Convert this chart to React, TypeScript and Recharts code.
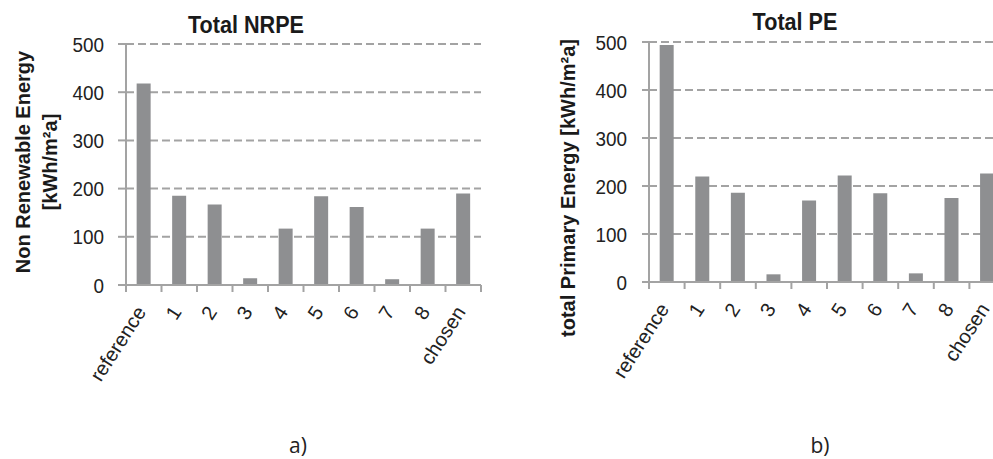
import { BarChart, Bar, XAxis, YAxis, CartesianGrid } from 'recharts'

const categories = ['reference', '1', '2', '3', '4', '5', '6', '7', '8', 'chosen']
const nrpeValues = [418, 185, 167, 14, 117, 184, 162, 12, 117, 190]
const peValues = [494, 220, 186, 16, 170, 222, 185, 18, 175, 226]
const yTicks = [0, 100, 200, 300, 400, 500]

const nrpeData = categories.map((name, i) => ({ name, value: nrpeValues[i] }))
const peData = categories.map((name, i) => ({ name, value: peValues[i] }))

const FONT = '"Liberation Sans", Arial, sans-serif'
const GRAY = '#a3a3a3'
const BAR = '#8e8f91'

// category label, rotated, plus the tick marks on the category edges
function RotTick({ x, y, payload, index, visibleTicksCount, half }: any) {
  const h = payload?.offset || half
  const ax = x + 3
  const ay = y + 27
  const last = index === visibleTicksCount - 1
  return (
    <g>
      <line x1={x - h} y1={y} x2={x - h} y2={y + 7} stroke={GRAY} strokeWidth={2} />
      {last && <line x1={x + h} y1={y} x2={x + h} y2={y + 7} stroke={GRAY} strokeWidth={2} />}
      <text
        x={ax}
        y={ay}
        transform={`rotate(-57 ${ax} ${ay})`}
        textAnchor="end"
        fontFamily={FONT}
        fontSize={20}
        fill="#222"
      >
        {payload.value}
      </text>
    </g>
  )
}

function ValueTick({ x, y, payload }: any) {
  return (
    <text
      transform={`translate(${x} ${y}) scale(0.9 1)`}
      textAnchor="end"
      dy="0.36em"
      fontFamily={FONT}
      fontSize={21}
      fill="#222"
    >
      {payload.value}
    </text>
  )
}

function Panel({
  data,
  width,
  height,
  axisWidth,
  tickSize,
  tickMargin,
  right,
  top,
}: {
  data: { name: string; value: number }[]
  width: number
  height: number
  axisWidth: number
  tickSize: number
  tickMargin: number
  right: number
  top: number
}) {
  const half = (width - axisWidth - right) / data.length / 2
  return (
    <BarChart
      width={width}
      height={height}
      data={data}
      margin={{ top, right, left: 0, bottom: 0 }}
      barCategoryGap="30%"
    >
      <CartesianGrid vertical={false} stroke={GRAY} strokeWidth={2} strokeDasharray="8 4" />
      <XAxis
        dataKey="name"
        height={115}
        interval={0}
        axisLine={{ stroke: GRAY, strokeWidth: 2 }}
        tickLine={false}
        tickSize={0}
        tickMargin={0}
        tick={<RotTick half={half} />}
      />
      <YAxis
        domain={[0, 500]}
        ticks={yTicks}
        width={axisWidth}
        tickSize={tickSize}
        tickMargin={tickMargin}
        axisLine={{ stroke: GRAY, strokeWidth: 2 }}
        tickLine={{ stroke: GRAY, strokeWidth: 2 }}
        tick={<ValueTick />}
      />
      <Bar dataKey="value" fill={BAR} isAnimationActive={false} />
    </BarChart>
  )
}

const titleStyle: React.CSSProperties = {
  position: 'absolute',
  fontFamily: FONT,
  fontWeight: 'bold',
  fontSize: 24,
  color: '#1a1a1a',
  transform: 'translate(-50%, -50%) scaleX(0.9)',
  whiteSpace: 'nowrap',
  lineHeight: 1,
}

const axisTitleStyle: React.CSSProperties = {
  position: 'absolute',
  fontFamily: FONT,
  fontWeight: 'bold',
  fontSize: 20,
  color: '#1a1a1a',
  transform: 'translate(-50%, -50%) rotate(-90deg)',
  whiteSpace: 'nowrap',
  lineHeight: 1,
  textAlign: 'center',
}

const captionStyle: React.CSSProperties = {
  position: 'absolute',
  fontFamily: '"Open Sans", "Noto Sans", sans-serif',
  fontSize: 21,
  color: '#222',
  transform: 'translate(-50%, -50%)',
  lineHeight: 1,
}

export default function App() {
  return (
    <div
      style={{
        position: 'absolute',
        left: 0,
        top: 0,
        width: 993,
        height: 459,
        overflow: 'hidden',
        background: '#fff',
      }}
    >
      <div style={{ position: 'absolute', left: 0, top: 0 }}>
        <Panel
          data={nrpeData}
          width={493}
          height={400}
          axisWidth={126}
          tickSize={8}
          tickMargin={14}
          right={12}
          top={44}
        />
      </div>
      <div style={{ position: 'absolute', left: 493, top: 0 }}>
        <Panel
          data={peData}
          width={530}
          height={397}
          axisWidth={156}
          tickSize={7}
          tickMargin={15}
          right={18}
          top={42}
        />
      </div>
      <div style={{ ...titleStyle, left: 246, top: 25 }}>Total NRPE</div>
      <div style={{ ...titleStyle, left: 795, top: 22 }}>Total PE</div>
      <div style={{ ...axisTitleStyle, left: 37, top: 162, lineHeight: '27px' }}>
        Non Renewable Energy
        <br />
        [kWh/m²a]
      </div>
      <div style={{ ...axisTitleStyle, left: 568, top: 188 }}>total Primary Energy [kWh/m²a]</div>
      <div style={{ ...captionStyle, left: 298, top: 445 }}>a)</div>
      <div style={{ ...captionStyle, left: 820, top: 445 }}>b)</div>
    </div>
  )
}
